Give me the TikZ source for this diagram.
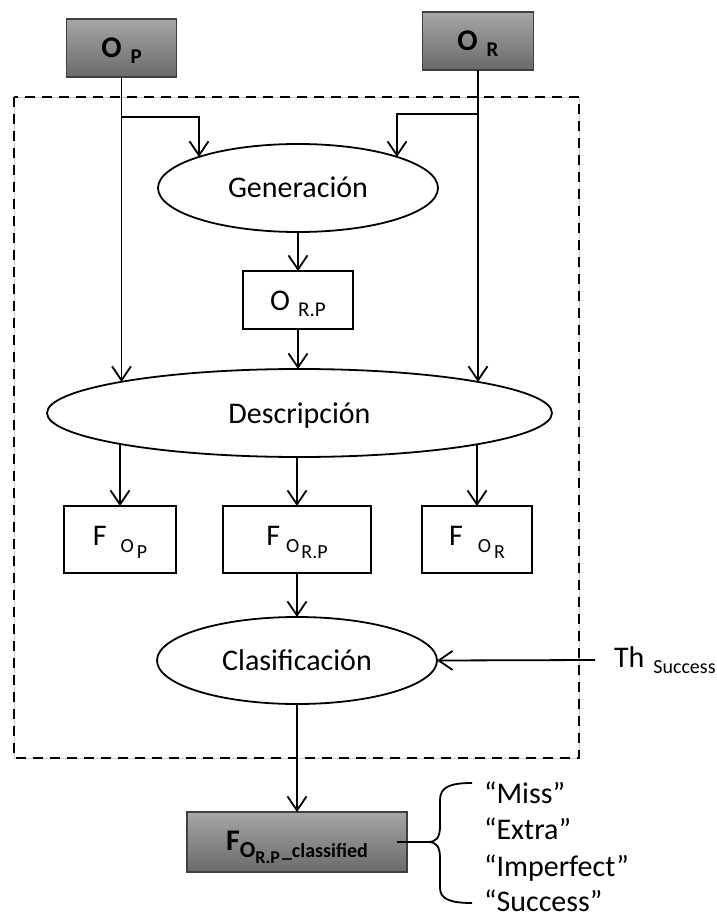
\documentclass[tikz,border=0pt]{standalone}
\usepackage{fontspec}
\setmainfont{Carlito}
\usetikzlibrary{shapes.geometric,arrows.meta,calc}

% lowered subscript that does not change the height of the line
\newcommand\lowsub[3]{\smash{\raisebox{-#1pt}{\fontsize{#2pt}{#2pt}\selectfont #3}}}

\definecolor{boxtop}{HTML}{A6A6A6}
\definecolor{boxbottom}{HTML}{6A6A6A}

\begin{document}
\begin{tikzpicture}[x=1pt,y=-1pt,
  every node/.style={inner sep=0pt, outer sep=0pt},
  conn/.style={line width=1.8pt},
  arr/.style={conn,-{Straight Barb[length=14pt,width=19pt,line width=1.8pt]}},
  whitebox/.style={draw, line width=1.8pt, fill=white,
    font=\fontsize{30pt}{30pt}\selectfont, text height=20pt, text depth=0pt},
  fbox/.style={whitebox, minimum height=67pt, text height=19pt, text depth=8pt},
  graybox/.style={draw=black!75, line width=1.1pt, top color=boxtop, bottom color=boxbottom,
    font=\fontsize{30pt}{30pt}\selectfont\bfseries},
  oval/.style={ellipse, draw, line width=1.8pt, fill=white,
    font=\fontsize{30pt}{30pt}\selectfont, text height=20pt, text depth=0pt},
  item/.style={anchor=base west, font=\fontsize{30pt}{30pt}\selectfont}
]
\useasboundingbox (0,0) rectangle (716,917);

% inputs
\node[graybox, minimum width=110pt, minimum height=58pt, text height=19pt, text depth=0pt]
  (OP) at (121.5,48) {O\hspace{9pt}\lowsub{6}{21}{P}};
\node[graybox, minimum width=111pt, minimum height=58pt, text height=19pt, text depth=0pt]
  (OR) at (478,41) {O\hspace{9pt}\lowsub{6}{21}{R}};

% processing chain
\node[oval, minimum width=280pt, minimum height=88pt] (Gen) at (298,188) {Generación};
\node[whitebox, minimum width=110pt, minimum height=58pt] (ORP) at (298,300)
  {O\hspace{8pt}\lowsub{6}{21}{R.P}};
\node[oval, minimum width=505pt, minimum height=88pt] (Desc) at (299.5,413) {Descripción};

\node[fbox, minimum width=112pt] (FOP) at (120,539.5)
  {F\hspace{14pt}\lowsub{7}{20}{O}\hspace{3pt}\lowsub{13}{20}{P}};
\node[fbox, minimum width=148pt] (FORP) at (297,539.5)
  {F\hspace{6pt}\lowsub{7}{20}{O}\hspace{2pt}\lowsub{13}{20}{R.P}};
\node[fbox, minimum width=110pt] (FOR) at (477,539.5)
  {F\hspace{15pt}\lowsub{7}{20}{O}\hspace{3pt}\lowsub{13}{20}{R}};

\node[oval, minimum width=280pt, minimum height=87pt] (Clas) at (297,660.5) {Clasificación};
\node[anchor=base west, font=\fontsize{30pt}{30pt}\selectfont] (Th) at (614,667)
  {Th\hspace{9pt}\lowsub{6}{20}{Success}};

% output
\node[graybox, minimum width=220pt, minimum height=60pt, text height=19pt, text depth=3pt]
  (Fcl) at (297,842)
  {F\lowsub{7}{23}{O}\lowsub{13}{18}{R.P}\hspace{2pt}\lowsub{7}{20}{\_classified}};

\node[item] (miss) at (484,803) {“Miss”};
\node[item] (extra) at (484,839.5) {“Extra”};
\node[item] (imperf) at (484,876) {“Imperfect”};
\node[item] (succ) at (484,911) {“Success”};

% dashed frame around the processing stages
\draw[gray!40, line width=0.6pt] (14,97) rectangle (579,758);
\draw[line width=2.1pt, dash pattern=on 10pt off 7pt] (14,97) rectangle (579,758);

% connectors
\coordinate (jP) at (OP.south |- 0,117);
\coordinate (jR) at (OR.south |- 0,114);
\draw[arr] (OP.south) -- (OP.south |- Desc.north west);
\draw[arr] (OR.south) -- (OR.south |- Desc.north east);
\draw[arr] (jP) -| (Gen.north west);
\draw[arr] (jR) -| (Gen.north east);
\draw[arr] (Gen.south) -- (ORP.north);
\draw[arr] (ORP.south) -- (ORP.south |- Desc.north);
\draw[arr] (FOP.north |- Desc.south west) -- (FOP.north);
\draw[arr] (FORP.north |- Desc.south) -- (FORP.north);
\draw[arr] (FOR.north |- Desc.south east) -- (FOR.north);
\draw[arr] (FORP.south) -- (FORP.south |- Clas.north);
\draw[arr] (Clas.south) -- (Clas.south |- Fcl.north);
\coordinate (thstart) at (595,660);
\draw[arr] (thstart) -- (Clas.east);

% brace grouping the class labels
\coordinate (cusp) at (428,842);
\draw[conn] ($(Fcl.east)+(-10,0)$) -- (cusp);
\draw[conn] (472,783) .. controls (450,783) and (440,787) .. (440,800) -- (440,826)
  .. controls (440,838) and (436,842) .. (cusp)
  .. controls (436,842) and (440,846) .. (440,858) -- (440,888)
  .. controls (440,899) and (450,903) .. (472,903);
\end{tikzpicture}
\end{document}
